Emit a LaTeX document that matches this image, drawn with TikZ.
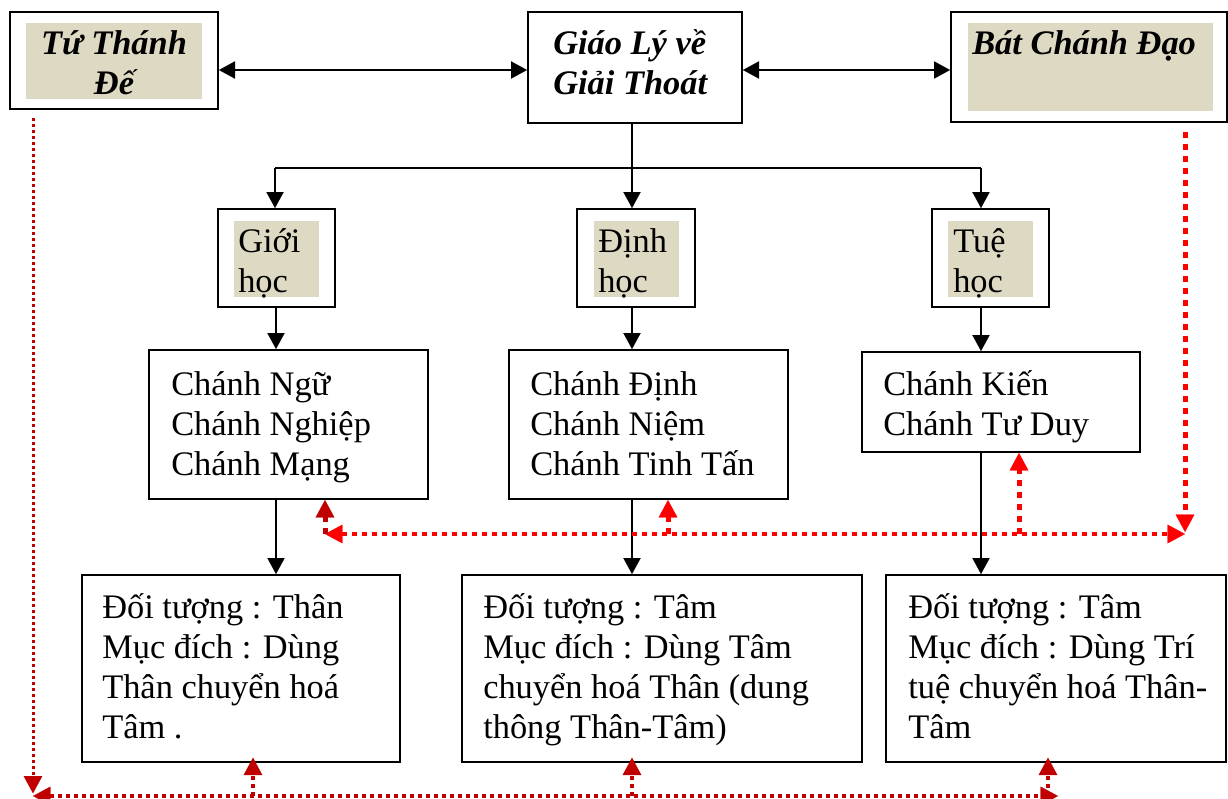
\documentclass[tikz,border=0pt]{standalone}
\usepackage{fontspec}
\setmainfont{Liberation Serif}
\usetikzlibrary{arrows.meta}
\definecolor{shade}{HTML}{DDD9C3}
\definecolor{rred}{HTML}{FF0000}
\definecolor{dred}{HTML}{C00000}
\newcommand\lnsL[1]{\vtop{\baselineskip=30pt\lineskiplimit=-1000pt\lineskip=0pt\halign{##\hfil\cr#1\crcr}}}
\newcommand\lnsC[1]{\vtop{\baselineskip=30pt\lineskiplimit=-1000pt\lineskip=0pt\halign{\hfil##\hfil\cr#1\crcr}}}
\tikzset{
  boxnode/.style={draw=black, line width=1.5pt, fill=white, inner sep=0pt, rectangle},
  shadenode/.style={fill=shade, draw=none, inner sep=0pt, rectangle, minimum width=63.75pt, minimum height=57pt},
  txt/.style={inner sep=0pt, anchor=base west, font=\fontsize{25.8pt}{30pt}\selectfont},
  btxt/.style={txt, font=\fontsize{25.8pt}{30pt}\selectfont\bfseries\itshape},
  blk/.style={draw=black, line width=1.5pt},
  btip/.tip={Triangle[length=12pt,width=13pt,line width=0.1pt]},
  blkarrow/.style={blk, -btip},
  blkboth/.style={blk, btip-btip},
  rtip/.tip={Triangle[length=13pt,width=14pt,line width=0.1pt]},
  rvert/.style={draw=rred, line width=3.75pt, dash pattern=on 4.5pt off 4.5pt, -rtip},
  rhoriz/.style={draw=rred, line width=3pt, dash pattern=on 3.75pt off 3.75pt, rtip-rtip},
  dvert/.style={draw=dred, line width=3pt, dash pattern=on 3pt off 3pt, -rtip},
  dhoriz/.style={draw=dred, line width=3pt, dash pattern=on 3pt off 3pt, rtip-rtip},
  dleft/.style={draw=dred, line width=2.25pt, dash pattern=on 2.25pt off 2.25pt, -rtip},
}
\begin{document}
\begin{tikzpicture}[x=0.75pt,y=-0.75pt]
\fill[white] (0,0) rectangle (1228,799);
\useasboundingbox (0,0) rectangle (1228,799);

% top row
\node[boxnode, minimum width=156pt, minimum height=72.75pt] (tu) at (114,60.5) {};
\node[shadenode, minimum width=132pt, minimum height=57pt] (tushade) at (114,61) {};
\node[btxt, anchor=base] (tutxt) at (114,55) {\lnsC{Tứ Thánh\cr Đế}};

\node[boxnode, minimum width=160.5pt, minimum height=83.25pt] (giao) at (635,67.5) {};
\node[btxt] (giaotxt) at (553,55) {\lnsL{Giáo Lý về\cr Giải Thoát}};

\node[boxnode, minimum width=207pt, minimum height=82.5pt] (bat) at (1089,67) {};
\node[shadenode, minimum width=183.75pt, minimum height=66pt] (batshade) at (1090.5,67) {};
\node[btxt] (battxt) at (972,55) {Bát Chánh Đạo};

% second row
\node[boxnode, minimum width=87.75pt, minimum height=73.5pt] (gioi) at (276.5,258) {};
\node[shadenode] (gioishade) at (276.5,259) {};
\node[txt] (gioitxt) at (238,252) {\lnsL{Giới\cr học}};

\node[boxnode, minimum width=88.5pt, minimum height=73.5pt] (dinh) at (636,258) {};
\node[shadenode] (dinhshade) at (636.5,259) {};
\node[txt] (dinhtxt) at (598,252) {\lnsL{Định\cr học}};

\node[boxnode, minimum width=87.75pt, minimum height=73.5pt] (tue) at (990.5,258) {};
\node[shadenode] (tueshade) at (990.5,259) {};
\node[txt] (tuetxt) at (953,252) {\lnsL{Tuệ\cr học}};

% third row
\node[boxnode, minimum width=209.25pt, minimum height=111.75pt] (cn) at (288.5,424.5) {};
\node[txt] (cntxt) at (171,395) {\lnsL{Chánh Ngữ\cr Chánh Nghiệp\cr Chánh Mạng}};

\node[boxnode, minimum width=209.25pt, minimum height=111.75pt] (cd) at (648.5,424.5) {};
\node[txt] (cdtxt) at (530,395) {\lnsL{Chánh Định\cr Chánh Niệm\cr Chánh Tinh Tấn}};

\node[boxnode, minimum width=208.5pt, minimum height=75pt] (ck) at (1001,402) {};
\node[txt] (cktxt) at (883,395) {\lnsL{Chánh Kiến\cr Chánh Tư Duy}};

% bottom row
\node[boxnode, minimum width=238.5pt, minimum height=140.25pt] (dt1) at (241,668.5) {};
\node[txt] (dt1txt) at (102,618) {\lnsL{Đối tượng : Thân\cr Mục đích : Dùng\cr Thân chuyển hoá\cr Tâm .}};

\node[boxnode, minimum width=300pt, minimum height=140.25pt] (dt2) at (662,668.5) {};
\node[txt] (dt2txt) at (483,618) {\lnsL{Đối tượng : Tâm\cr Mục đích : Dùng Tâm\cr chuyển hoá Thân (dung\cr thông Thân-Tâm)}};

\node[boxnode, minimum width=255pt, minimum height=140.25pt] (dt3) at (1056,668.5) {};
\node[txt] (dt3txt) at (908,618) {\lnsL{Đối tượng : Tâm\cr Mục đích : Dùng Trí\cr tuệ chuyển hoá Thân-\cr Tâm}};

% black connectors
\coordinate (ay) at (0,70);
\draw[blkboth] (tu.east |- ay) -- (giao.west |- ay);
\draw[blkboth] (giao.east |- ay) -- (bat.west |- ay);

\coordinate (colA) at (275,168);
\coordinate (colB) at (632,168);
\coordinate (colC) at (981,168);
\draw[blk] (giao.south -| colB) -- (colB);
\draw[blk] (colA) -- (colC);
\draw[blkarrow] (colA) -- (colA |- gioi.north);
\draw[blkarrow] (colB) -- (colB |- dinh.north);
\draw[blkarrow] (colC) -- (colC |- tue.north);

\coordinate (colA2) at (276,0);
\draw[blkarrow] (gioi.south -| colA2) -- (cn.north -| colA2);
\draw[blkarrow] (dinh.south -| colB) -- (cd.north -| colB);
\draw[blkarrow] (tue.south -| colC) -- (ck.north -| colC);
\draw[blkarrow] (cn.south -| colA2) -- (dt1.north -| colA2);
\draw[blkarrow] (cd.south -| colB) -- (dt2.north -| colB);
\draw[blkarrow] (ck.south -| colC) -- (dt3.north -| colC);

% red dotted connectors (middle)
\coordinate (rtop) at (1185,132);
\coordinate (rcorner) at (1185,534);
\coordinate (lmid) at (325,534);
\coordinate (mmid) at (668,534);
\coordinate (kmid) at (1019,534);
\draw[rvert, shorten >=1.5pt] (rtop) -- (rcorner);
\draw[rhoriz] (lmid) -- (rcorner);
\draw[dvert, line width=3.75pt, dash pattern=on 4.5pt off 4.5pt] (lmid) -- (lmid |- cn.south);
\draw[rvert] (mmid) -- (mmid |- cd.south);
\draw[rvert] (kmid) -- (kmid |- ck.south);

% red dotted connectors (bottom)
\coordinate (ltop) at (33,118);
\coordinate (lcorner) at (33,796);
\coordinate (rbot) at (1058,796);
\coordinate (b1) at (253,796);
\coordinate (b2) at (632,796);
\coordinate (b3) at (1048,796);
\draw[dleft, shorten >=2pt] (ltop) -- (lcorner);
\draw[dhoriz] (lcorner) -- (rbot);
\draw[dvert, shorten >=-4pt] (b1) -- (b1 |- dt1.south);
\draw[dvert, shorten >=-4pt] (b2) -- (b2 |- dt2.south);
\draw[dvert, shorten >=-4pt] (b3) -- (b3 |- dt3.south);
\end{tikzpicture}
\end{document}
